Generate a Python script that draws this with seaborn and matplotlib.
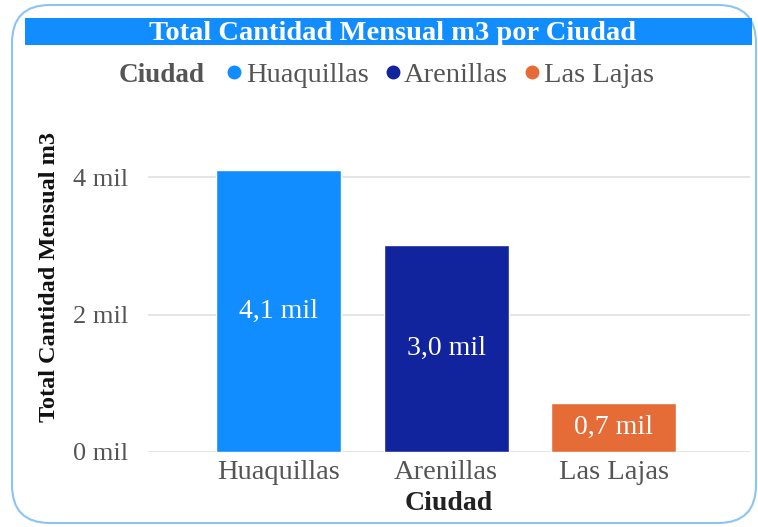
#Importing libraries
import pandas as pd
import matplotlib.pyplot as plt
import seaborn as sns
import numpy as np
from matplotlib.patches import FancyBboxPatch, Rectangle
from matplotlib.lines import Line2D

#Chart data
Ciudades = ["Huaquillas", "Arenillas", "Las Lajas"]
Cantidad = [4100, 3010, 710]
Etiquetas = ["4,1 mil", "3,0 mil", "0,7 mil"]
Colores = ["#118dff", "#12239e", "#e66c37"]
TicksY = [0, 2000, 4000]
TicksYLabels = ["0 mil", "2 mil", "4 mil"]

DataFrame = pd.DataFrame({"Ciudad": Ciudades, "Cantidad": Cantidad})

sns.set_style("white")
plt.rcParams['font.family'] = ['Liberation Serif', 'DejaVu Serif']

fig = plt.figure(figsize=(7.58, 5.27), dpi=100)

#Rounded card frame and title bar
card = FancyBboxPatch((12/758, 4/527), 744/758, 518/527,
                      boxstyle="round,pad=0,rounding_size=0.05",
                      transform=fig.transFigure, facecolor="white",
                      edgecolor="#8cc4f5", linewidth=1.5, mutation_aspect=758/527,
                      zorder=-5)
fig.patches.append(card)
fig.patches.append(Rectangle((25/758, 1 - 45/527), 727/758, 27/527,
                             transform=fig.transFigure, facecolor="#118dff",
                             edgecolor="none", zorder=-4))
fig.text(393/758, 1 - 33/527, "Total Cantidad Mensual m3 por Ciudad", color="white",
         fontsize=20.5, fontweight="bold", ha="center", va="center")

#Legend
fig.text(162/758, 1 - 75/527, "Ciudad", color="#555555", fontsize=19.5,
         fontweight="bold", ha="center", va="center")
Handles = [Line2D([0], [0], marker="o", linestyle="none", markersize=9,
                  markerfacecolor=c, markeredgecolor=c) for c in Colores]
fig.legend(Handles, Ciudades, loc="center left", bbox_to_anchor=(203/758, 1 - 75/527),
           ncol=3, frameon=False, fontsize=20.5, handletextpad=0.0, columnspacing=0.45,
           handlelength=0.8, labelcolor="#555555", borderpad=0.2)

#Bars
ax = fig.add_axes([148/758, 1 - 452/527, 602/758, 322/527])
ax.set_facecolor("none")
sns.barplot(data=DataFrame, x="Ciudad", y="Cantidad", hue="Ciudad", palette=Colores,
            order=Ciudades, hue_order=Ciudades, legend=False, width=0.746,
            saturation=1, ax=ax)

for i, bar in enumerate(ax.patches):
    ax.text(bar.get_x() + bar.get_width() / 2, bar.get_height() / 2, Etiquetas[i],
            color="white", fontsize=20, ha="center", va="center")

ax.set_xlim(-0.78, 2.815)
ax.set_ylim(0, 4684)
ax.set_yticks(TicksY)
ax.set_yticklabels(TicksYLabels)
ax.yaxis.grid(True, color="#e0e0e0", linewidth=1.2)
ax.set_axisbelow(True)
sns.despine(ax=ax, left=True, bottom=True)
ax.tick_params(axis="y", length=0, labelsize=19, labelcolor="#555555", pad=14)
ax.tick_params(axis="x", length=0, labelsize=20.5, labelcolor="#555555", pad=6)
ax.set_xlabel("Ciudad", fontsize=20, fontweight="bold", color="#222222", labelpad=4)
ax.set_ylabel("Total Cantidad Mensual m3", fontsize=17.5, fontweight="bold",
              color="#111111")
ax.yaxis.set_label_coords(-0.147, 0.545)

fig.savefig("out.png", dpi=100)
